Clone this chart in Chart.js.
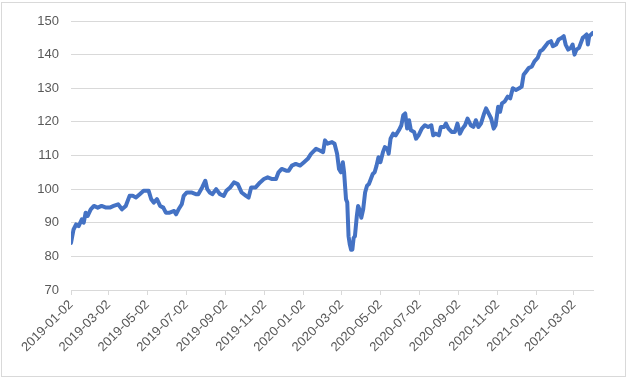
<!DOCTYPE html>
<html>
<head>
<meta charset="utf-8">
<script src="https://cdn.jsdelivr.net/npm/chart.js@4"></script>
<style>
  html, body { margin: 0; padding: 0; background: #fff; }
  #wrap { width: 628px; height: 379px; position: relative; }
</style>
</head>
<body>
<div id="wrap"><canvas id="chart" width="628" height="379"></canvas></div>
<script>
// Data: days since 2019-01-02 and index values
const startDate = '2019-01-02';
const days = [0,4,8,12,17,20,23,26,31,36,42,48,55,61,67,74,80,86,92,97,
  102,108,114,122,126,130,135,140,145,149,155,162,165,169,174,177,182,189,196,200,
  206,211,214,218,222,228,234,240,244,250,256,262,268,275,279,283,290,297,303,309,
  316,322,326,331,338,342,347,353,360,366,372,377,385,391,396,399,403,410,414,418,
  421,424,427,429,432,434,436,438,440,442,444,446,449,451,454,456,459,462,465,468,
  471,474,477,480,483,486,490,493,497,499,502,506,510,515,519,522,525,528,531,534,
  539,542,546,551,556,561,566,569,573,578,581,586,589,593,598,603,607,611,615,619,
  623,628,632,636,640,644,649,652,656,660,664,667,671,674,677,681,686,690,694,699,
  704,708,711,715,719,724,728,733,737,741,745,749,754,757,762,766,771,774,777,781,
  785,788,791,794,798,801,804,807,810,812,814,817,820];
const values = [84,88,89.5,89,91,90,93,92,94,95,94.5,95,94.5,94.5,95,95.5,94,95,98,98,
  97.5,98.5,99.5,99.5,97,96,97,95,94.5,93,93,93.5,92.5,94,95.5,98,99,99,98.5,98.5,
  100.5,102.5,100,99,98.5,100,98.5,98,99.5,100.5,102,101.5,99,98,97.5,100.5,100.5,102,103,103.5,
  103,103,105,106,105.5,105.5,107,107.5,107,108,109,110.5,112,111.5,111,114.5,113.5,114,113.5,110.5,
  106,105,108,105,97,96,86,83.5,82,82,85.5,86,92,95,93.5,91.5,94,99,101,101.5,
  103,104.5,105,107,109.5,108,111,112.5,112,110.5,115,116.5,116,117.5,119,122,122.5,118,120.5,117.5,
  117,115,116,118,119,118.5,119,116,116.5,116,118.5,118.5,119.5,118,117,117,119.5,116.5,118,119,
  121,119,118.5,120.5,118.5,119.5,122.5,124,122.5,121,118,119,124.5,123,125.5,126,127.5,127,130,129.5,
  130,130.5,134,135,136,136.5,138,139,141,141.5,142.5,143.5,144,142.5,143,144.5,145,145.5,143,141.5,
  142,143,140,141.5,142,143.5,145,145.5,146,143,145.5,146,146.5];
const tickLabels = ['2019-01-02','2019-03-02','2019-05-02','2019-07-02','2019-09-02','2019-11-02',
  '2020-01-02','2020-03-02','2020-05-02','2020-07-02','2020-09-02','2020-11-02','2021-01-02','2021-03-02'];
const yMin = 70, yMax = 150, yStep = 10;

const dayMs = 86400000;
const t0 = Date.parse(startDate);
const tickDays = tickLabels.map(s => Math.round((Date.parse(s) - t0) / dayMs));
const points = days.map((d, i) => ({ x: d, y: values[i] }));

const frame = {
  id: 'frame',
  beforeDraw(chart) {
    const ctx = chart.ctx;
    ctx.save();
    ctx.fillStyle = '#fff';
    ctx.fillRect(0, 0, chart.width, chart.height);
    ctx.strokeStyle = '#d9d9d9';
    ctx.lineWidth = 1;
    ctx.strokeRect(1.5, 2.5, 624, 374);
    ctx.restore();
  }
};

const font = { family: 'Liberation Sans, Arial, sans-serif', size: 13 };

new Chart(document.getElementById('chart'), {
  type: 'line',
  data: {
    datasets: [{
      data: points,
      borderColor: '#4472C4',
      borderWidth: 4,
      pointRadius: 0,
      tension: 0,
      borderJoinStyle: 'round',
      borderCapStyle: 'round'
    }]
  },
  options: {
    responsive: false,
    animation: false,
    events: [],
    layout: { padding: { left: 0, top: 21, right: 35, bottom: 0 } },
    plugins: { legend: { display: false }, tooltip: { enabled: false } },
    scales: {
      x: {
        type: 'linear',
        min: 0,
        max: days[days.length - 1],
        afterBuildTicks: scale => { scale.ticks = tickDays.map(v => ({ value: v })); },
        afterFit: scale => { scale.height = 89; },
        ticks: {
          autoSkip: false,
          minRotation: 45,
          maxRotation: 45,
          color: '#595959',
          font: font,
          padding: 2,
          callback: (v) => tickLabels[tickDays.indexOf(v)]
        },
        grid: { drawOnChartArea: false, drawTicks: true, tickLength: 5, color: '#d9d9d9' },
        border: { display: true, color: '#d9d9d9' }
      },
      y: {
        min: yMin,
        max: yMax,
        afterFit: scale => { scale.width = 71; },
        ticks: { stepSize: yStep, color: '#595959', font: font, padding: 12 },
        grid: { color: '#d9d9d9', drawTicks: false },
        border: { display: false }
      }
    }
  },
  plugins: [frame]
});
</script>
</body>
</html>
